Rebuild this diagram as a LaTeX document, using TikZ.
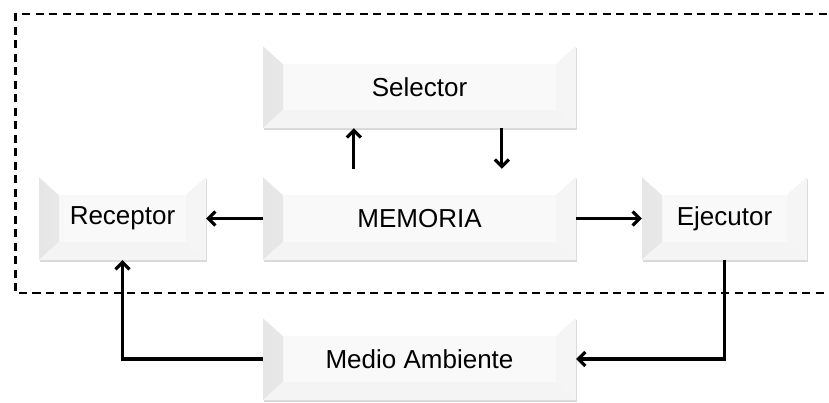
\documentclass[tikz,border=0pt]{standalone}
\usepackage{fontspec}
\setmainfont{Liberation Sans}
\usetikzlibrary{arrows.meta,shadows,calc}
\definecolor{bface}{HTML}{F9F9F9}
\definecolor{bleft}{HTML}{E6E6E6}
\definecolor{btop}{HTML}{FFFFFF}
\definecolor{bbot}{HTML}{F4F4F4}
\definecolor{bright}{HTML}{F5F5F5}
\tikzset{
  bevel/.style={rectangle, inner sep=0pt, fill=bface,
    font=\fontsize{26}{30}\selectfont,
    drop shadow={shadow xshift=0.5pt, shadow yshift=-2pt, opacity=0.3, fill=gray},
    path picture={
      \fill[left color=bleft, right color=bface] (path picture bounding box.south west) -- (path picture bounding box.north west)
        -- ([shift={(20,18)}]path picture bounding box.north west)
        -- ([shift={(20,-18)}]path picture bounding box.south west) -- cycle;
      \fill[btop] (path picture bounding box.north west) -- (path picture bounding box.north east)
        -- ([shift={(-20,18)}]path picture bounding box.north east)
        -- ([shift={(20,18)}]path picture bounding box.north west) -- cycle;
      \fill[bright] (path picture bounding box.north east) -- (path picture bounding box.south east)
        -- ([shift={(-20,-18)}]path picture bounding box.south east)
        -- ([shift={(-20,18)}]path picture bounding box.north east) -- cycle;
      \fill[bbot] (path picture bounding box.south west) -- (path picture bounding box.south east)
        -- ([shift={(-20,-18)}]path picture bounding box.south east)
        -- ([shift={(20,-18)}]path picture bounding box.south west) -- cycle;
    }},
  arr/.style={line width=3.2pt, -{Straight Barb[length=7pt,width=14pt]}},
  frame/.style={line width=2.8pt, dash pattern=on 8pt off 5.5pt}
}
\begin{document}
\begin{tikzpicture}[x=1pt,y=-1pt]
\useasboundingbox (0,0) rectangle (829,402);
\fill[white] (0,0) rectangle (829,402);
\draw[frame] (840,14) -- (15.5,14) -- (15.5,293) -- (840,293);
\node[bevel, minimum width=313pt, minimum height=82pt] (sel) at (419.5,87) {Selector};
\node[bevel, minimum width=313pt, minimum height=83pt] (mem) at (419.5,218.5) {MEMORIA};
\node[bevel, minimum width=167pt, minimum height=83pt] (rec) at (122.5,218.5) {Receptor};
\node[bevel, minimum width=165pt, minimum height=83pt] (eje) at (724.5,218.5) {Ejecutor};
\node[bevel, minimum width=313pt, minimum height=82pt] (med) at (419.5,359) {Medio Ambiente};
\draw[arr] ([xshift=91pt,yshift=8pt]mem.north west) -- ([xshift=91pt]sel.south west);
\draw[arr] ([xshift=239pt]sel.south west) -- ([xshift=239pt,yshift=8pt]mem.north west);
\draw[arr] (mem.west) -- (rec.east);
\draw[arr] (mem.east) -- (eje.west);
\draw[arr] (eje.south) |- (med.east);
\draw[arr] (med.west) -| (rec.south);
\end{tikzpicture}
\end{document}
